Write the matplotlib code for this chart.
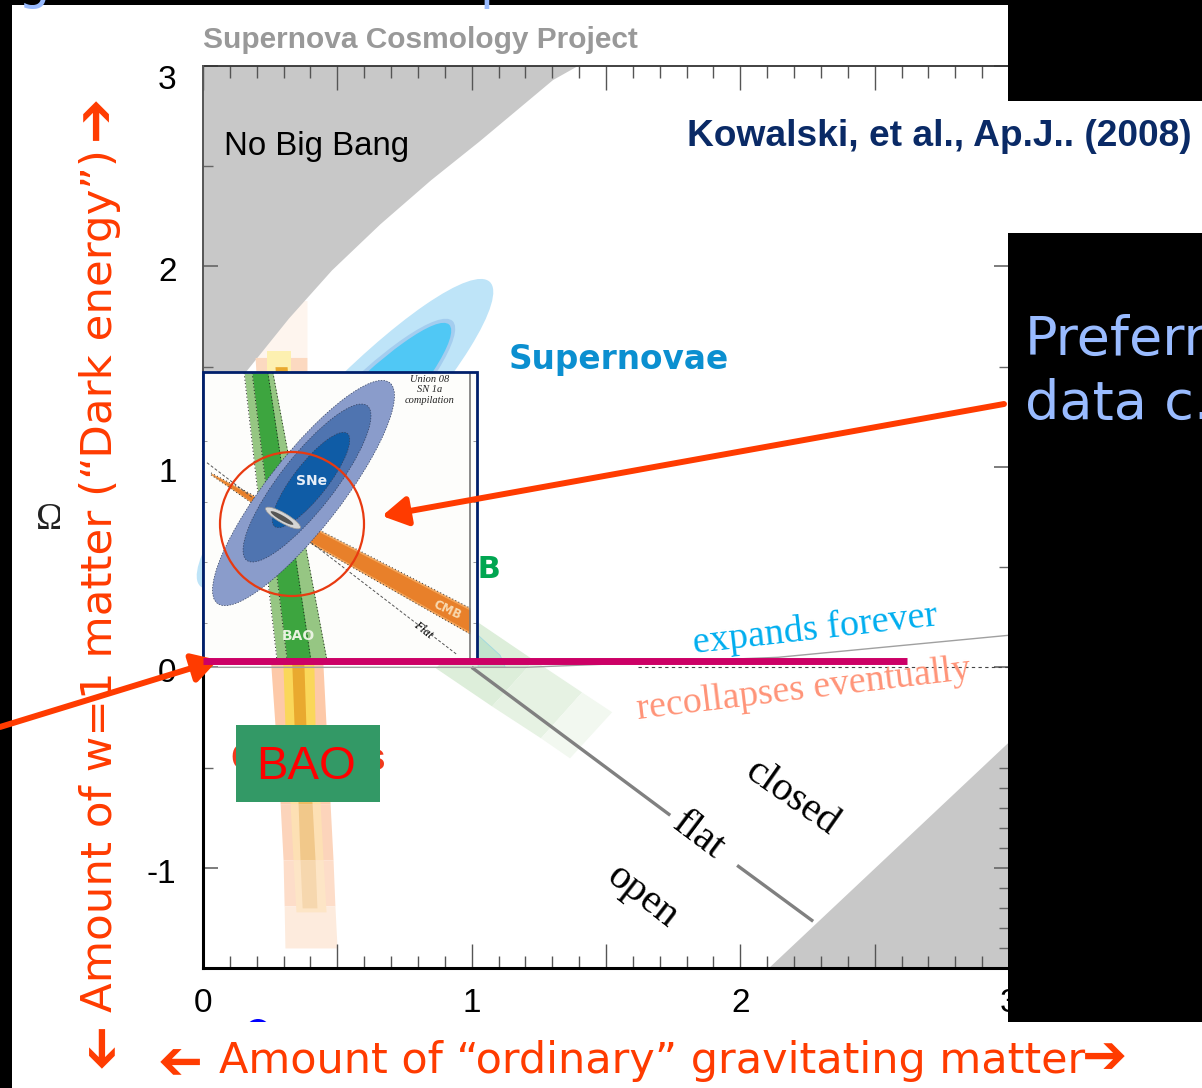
#!/usr/bin/env python3
import matplotlib
matplotlib.use('Agg')
import matplotlib.pyplot as plt
from matplotlib.patches import Ellipse, Rectangle, FancyArrowPatch
from matplotlib.transforms import ScaledTranslation

W, H = 1202, 1088

# allowed/forbidden corners of the Omega_m - Omega_L plane
nobang_x = [0, 0.164, 0.32, 0.48, 0.66, 0.849, 1.03, 1.303, 1.396]
nobang_y = [1.2, 1.48, 1.74, 1.98, 2.21, 2.43, 2.624, 2.93, 3.0]
norec_x = [2.107, 3.0, 3.0]
norec_y = [-1.5, -0.374, -1.5]

flat_x1 = [1.0, 1.739]
flat_y1 = [0.0, -0.738]
flat_x2 = [1.988, 2.271]
flat_y2 = [-0.988, -1.267]
expand_x = [0.0, 1.2, 2.14, 3.0]
expand_y = [0.0, 0.0, 0.05, 0.16]

# BAO band in the big plot
bao_y = [1.83, 1.546, 1.47, 0, -0.29, -0.68, -0.96, -1.19, -1.40]
bao_left = [0.22, 0.194, 0.197, 0.253, 0.268, 0.287, 0.298, 0.302, 0.305]
bao_right = [0.387, 0.387, 0.387, 0.447, 0.458, 0.473, 0.484, 0.491, 0.499]
bao2_y = [1.58, 1.47, 0, -0.29, -0.68, -0.96, -1.22]
bao2_left = [0.238, 0.238, 0.298, 0.305, 0.324, 0.335, 0.346]
bao2_right = [0.328, 0.328, 0.413, 0.417, 0.436, 0.447, 0.458]
bao3_y = [1.5, 0, -0.29, -0.68, -0.96, -1.2]
bao3_left = [0.268, 0.331, 0.339, 0.354, 0.361, 0.369]
bao3_right = [0.313, 0.376, 0.383, 0.406, 0.417, 0.424]

# CMB band edges in the big plot
cmb_up_x = [1.024, 1.232, 1.411, 1.523]
cmb_up_y = [0.224, 0.035, -0.125, -0.224]
cmb_lo_x = [0.867, 1.076, 1.258, 1.366]
cmb_lo_y = [-0.005, -0.195, -0.354, -0.454]
cmb_core_x = [1.024, 1.106, 1.125, 1.024]
cmb_core_y = [0.16, 0.06, 0.0, 0.0]

# inset bands
in_bao_y = [1.2, 0.016]
in_bao_left = [0.154, 0.277]
in_bao_right = [0.262, 0.464]
in_bao_dleft = [0.184, 0.315]
in_bao_dright = [0.243, 0.404]
in_cmb_x = [0.03, 0.40, 1.0]
in_cmb_hi = [0.788, 0.573, 0.231]
in_cmb_lo = [0.780, 0.499, 0.124]
in_cmb_chi = [0.784, 0.565, 0.222]
in_cmb_clo = [0.784, 0.507, 0.133]
in_flat_x = [0.015, 0.95]
in_flat_y = [0.83, 0.04]
in_yticks = [0.17, 0.42, 0.67, 0.92]

x_major = [0, 0.5, 1, 1.5, 2, 2.5, 3]
x_labels = ['0', '', '1', '', '2', '', '3']
y_major = [-1, 0, 1, 2, 3]
y_labels = ['-1', '0', '1', '2', '3']

ORANGE = '#FF3B00'
SANS = 'Liberation Sans'
SERIF = 'Liberation Serif'


def px_axes(z):
    a = fig.add_axes([0, 0, 1, 1], zorder=z, facecolor='none')
    a.set_xlim(0, W)
    a.set_ylim(H, 0)
    a.axis('off')
    return a


def band(a, levels, left, right, colors, z=1.5):
    for i, c in enumerate(colors):
        a.fill_betweenx(levels[i:i + 2], left[i:i + 2], right[i:i + 2], color=c, lw=0, zorder=z)


fig = plt.figure(figsize=(W / 100, H / 100), dpi=100, facecolor='black')

under = px_axes(0)
over = px_axes(5)
under.add_patch(Rectangle((12, 5), W, H, color='white', lw=0))

# big plot
ax = fig.add_axes([203 / W, 1 - 968 / H, (1009 - 203) / W, (968 - 66) / H], zorder=1, facecolor='none')
ax.set_xlim(0, 3)
ax.set_ylim(-1.5, 3)

ax.fill(nobang_x + [0], nobang_y + [3], color='#C8C8C8', lw=0, zorder=1)
ax.fill(norec_x, norec_y, color='#C8C8C8', lw=0, zorder=1)

# the palest top piece of the BAO band lies behind the grey corner
band(ax, bao_y[:2], bao_left[:2], bao_right[:2], ['#FEF5EE'], z=0.5)
band(ax, bao_y[1:], bao_left[1:], bao_right[1:],
     ['#FCD9C0', '#FDC9A8', '#FDC9A8', '#FCCBAC', '#FCD4BB', '#FDDDC9', '#FDEBDD'])
band(ax, bao2_y, bao2_left, bao2_right,
     ['#FDF0B0', '#FAD75A', '#FAD75A', '#FEDFA0', '#FDE0B4', '#FDE5C6'])
band(ax, bao3_y, bao3_left, bao3_right,
     ['#E9A92F', '#E9A92F', '#EDBB62', '#F1C88A', '#F6D7AE'])

for i, c in enumerate(['#DDEEDA', '#E6F2E3', '#F2F8F0']):
    ax.fill([cmb_up_x[i], cmb_up_x[i + 1], cmb_lo_x[i + 1], cmb_lo_x[i]],
            [cmb_up_y[i], cmb_up_y[i + 1], cmb_lo_y[i + 1], cmb_lo_y[i]], color=c, lw=0, zorder=2)
ax.fill(cmb_core_x, cmb_core_y, facecolor='#C1E3CC', edgecolor='#9FD8E0', lw=0.6, zorder=2)

for w, h, col in [(88, 420, '#BEE4F8'), (66, 312, '#A4CDEF'), (58, 302, '#50C8F5')]:
    ax.add_patch(Ellipse((345, 434), h, w, angle=-46.4, color=col, lw=0, clip_on=False,
                         transform=under.transData, zorder=3))

ax.plot(flat_x1, flat_y1, color='#808080', lw=2.4, zorder=4, solid_capstyle='butt')
ax.plot(flat_x2, flat_y2, color='#808080', lw=2.4, zorder=4, solid_capstyle='butt')
ax.plot(expand_x, expand_y, color='#A0A0A0', lw=1.0, zorder=4)
ax.plot([1.62, 3], [0, 0], color='#444444', lw=0.8, ls=(0, (3, 3)), zorder=4)

ax.set_xticks(x_major)
ax.set_xticklabels(x_labels, fontsize=24, family=SANS)
ax.set_xticks([v / 10 for v in range(31) if v % 5], minor=True)
ax.set_yticks(y_major)
ax.set_yticklabels(y_labels, fontsize=24, family=SANS)
y_minor = [v / 10 for v in range(-15, 31) if v % 10]
ax.set_yticks(y_minor, minor=True)
ax.tick_params(axis='x', which='major', direction='in', top=True, length=17, width=1, color='#555555', pad=14.5)
ax.tick_params(axis='x', which='minor', direction='in', top=True, length=8.5, width=1, color='#555555')
ax.tick_params(axis='y', which='major', direction='in', right=True, length=11, width=1.2, color='#666666', pad=19)
ax.tick_params(axis='y', which='minor', direction='in', right=True, length=7, width=1, color='#666666')
for v, t in zip(y_minor, ax.yaxis.get_minor_ticks()):
    half = v * 2 == int(v * 2)
    t.tick1line.set_visible(half)
    t.tick2line.set_visible(half or v < -0.5)
for v, lab in zip(y_major, ax.get_yticklabels()):
    shift = 11 if v == 3 else 3
    lab.set_transform(lab.get_transform() + ScaledTranslation(0, -shift / 100, fig.dpi_scale_trans))

ax.spines['right'].set_visible(False)
ax.spines['top'].set_color('#333333')
ax.spines['top'].set_linewidth(1.3)
ax.spines['bottom'].set_linewidth(2.2)
ax.spines['left'].set_bounds(-1.5, 0)
ax.spines['left'].set_linewidth(2.2)
ax.plot([0, 0], [0, 3], color='#555555', lw=1.4, clip_on=False, zorder=5)

# texts of the big plot, some of them half hidden later
ax.text(0.08, 2.60, 'No Big Bang', fontsize=23.8, family=SANS, va='center', zorder=6)
under.text(203, 40, 'Supernova Cosmology Project', fontsize=21.5, family=SANS, weight='bold',
           color='#999999', va='center')
under.text(509, 360, 'Supernovae', fontsize=23.6, family='DejaVu Sans', weight='bold',
           color='#0B8FD0', va='center')
under.text(501, 570, 'CMB', fontsize=22, family='DejaVu Sans', weight='bold',
           color='#00A651', va='center', ha='right')
ax.text(308, 760, 'Clusters', fontsize=28, family=SANS, weight='bold', color='#F03A1C',
        va='center', ha='center', transform=under.transData, zorder=6)
ax.text(815, 630, 'expands forever', fontsize=27.5, family=SERIF, color='#00AEEF', rotation=6.5,
        rotation_mode='anchor', ha='center', va='center', transform=under.transData, zorder=6)
ax.text(804, 690, 'recollapses eventually', fontsize=27.3, family=SERIF, color='#FF9478', rotation=6.9,
        rotation_mode='anchor', ha='center', va='center', transform=under.transData, zorder=6)
ax.text(792, 798, 'closed', fontsize=29.5, family=SERIF, rotation=-35,
        rotation_mode='anchor', ha='center', va='center', transform=under.transData, zorder=6)
ax.text(698, 836, 'flat', fontsize=29.5, family=SERIF, rotation=-37,
        rotation_mode='anchor', ha='center', va='center', transform=under.transData, zorder=6)
ax.text(642, 897, 'open', fontsize=29.5, family=SERIF, rotation=-38,
        rotation_mode='anchor', ha='center', va='center', transform=under.transData, zorder=6)

# inset with the Union 08 figure
ins = fig.add_axes([203 / W, 1 - 664 / H, (477 - 203) / W, (664 - 372) / H], zorder=2, facecolor='#FDFDFB')
ins.set_xlim(0, (477 - 203) / 267)
ins.set_ylim(0, (664 - 372) / 242.5)

ins.fill_betweenx(in_bao_y, in_bao_left, in_bao_right, color='#96C683', lw=0)
ins.fill_betweenx(in_bao_y, in_bao_dleft, in_bao_dright, color='#3DA53F', lw=0)
for xs in (in_bao_left, in_bao_right, in_bao_dleft, in_bao_dright):
    ins.plot(xs, in_bao_y, color='#1A1A1A', lw=0.7, ls=(0, (1, 2.5)))
ins.fill_between(in_cmb_x, in_cmb_lo, in_cmb_hi, color='#F2A65E', lw=0)
ins.fill_between(in_cmb_x, in_cmb_clo, in_cmb_chi, color='#E8802A', lw=0)
ins.plot(in_cmb_x, in_cmb_lo, color='#333333', lw=0.7, ls=(0, (1, 2.5)))
ins.plot(in_cmb_x, in_cmb_hi, color='#333333', lw=0.7, ls=(0, (1, 2.5)))
ins.plot(in_flat_x, in_flat_y, color='#555555', lw=0.7, ls=(0, (3, 2)))
ins.axvline(1.0, color='#777777', lw=1.2)

for center, length, width, col in [((303.5, 493), 280, 74, '#8A9CCB'),
                                   ((307, 483), 196, 54, '#4F74B0'),
                                   ((311, 480), 118, 34, '#0F5CA6')]:
    ins.add_patch(Ellipse(center, length, width, angle=-52, facecolor=col, edgecolor='#33405F',
                          lw=0.5, ls=(0, (2, 2)), transform=under.transData, zorder=4))
ins.add_patch(Ellipse((283, 518), 40, 10, angle=30, facecolor='#D5D5D5', edgecolor='#999999', lw=0.5,
                      transform=under.transData, zorder=5))
ins.add_patch(Ellipse((282, 518), 26, 5, angle=30, color='#555555', lw=0,
                      transform=under.transData, zorder=6))

ins.set_xticks([])
ins.set_yticks(in_yticks)
ins.set_yticklabels([])
ins.tick_params(axis='y', direction='in', right=True, length=3, width=0.6, color='#888888')
for s in ins.spines.values():
    s.set_visible(False)
ins.text(312, 481, 'SNe', fontsize=10, family='DejaVu Sans', weight='bold', color='#E6EEF8',
         ha='center', va='center', transform=under.transData, zorder=7)
ins.text(298, 636, 'BAO', fontsize=10, family='DejaVu Sans', weight='bold', color='#E8F2E0',
         ha='center', va='center', transform=under.transData, zorder=7)
ins.text(430, 390, 'Union 08\nSN 1a\ncompilation', fontsize=7.5, family=SERIF, style='italic',
         color='#222222', ha='center', va='center', linespacing=1.15, transform=under.transData, zorder=7)
ins.text(447, 610, 'CMB', fontsize=8.5, family='DejaVu Sans', weight='bold', color='#F8D9B0', rotation=-25,
         ha='center', va='center', transform=under.transData, zorder=7)
ins.text(423, 630, 'Flat', fontsize=9, family=SERIF, style='italic', rotation=-38,
         ha='center', va='center', transform=under.transData, zorder=7)

# overlay: boxes, arrows, axis captions
over.add_patch(Rectangle((203, 372), 274, 288, fill=False, edgecolor='#001F6B', lw=2))
over.add_patch(Ellipse((292, 524), 144, 144, fill=False, edgecolor='#E83A10', lw=1.6))
over.plot([203, 907], [661, 661], color='#CC0066', lw=5, solid_capstyle='butt')
over.add_patch(Rectangle((236, 725), 144, 77, color='#339966', lw=0))
over.text(306, 767, 'BAO', fontsize=34, family=SANS, color='#FF0000', ha='center', va='center')

over.add_patch(Rectangle((990, 101), 22, 132, color='white', lw=0))
over.text(1192, 137, 'Kowalski, et al., Ap.J.. (2008)', fontsize=26.7, family=SANS, weight='bold',
          color='#0A2A66', va='center', ha='right')

over.add_patch(Rectangle((1008, 0), 200, 101, color='black', lw=0))
over.add_patch(Rectangle((1008, 233), 200, 789, color='black', lw=0))
over.add_patch(Rectangle((0, 0), 12, H, color='black', lw=0))

over.text(1025, 355, 'Preferr', fontsize=39, family='DejaVu Sans', color='#99BBFF', va='baseline', clip_on=True)
over.text(1025, 419, 'data c.', fontsize=39, family='DejaVu Sans', color='#99BBFF', va='baseline', clip_on=True)
over.text(17, -2, 'g', fontsize=37, family='DejaVu Sans', color='#99BBFF', va='baseline', clip_on=True)
over.text(479, -2, 'p', fontsize=37, family='DejaVu Sans', color='#99BBFF', va='baseline', clip_on=True)

under.text(36, 529, '\u03a9', fontsize=27, family=SERIF, color='#222222', va='baseline')
over.add_patch(Rectangle((60, 495), 12, 40, color='white', lw=0))
over.add_patch(Ellipse((258, 1032), 26, 26, color='#0000FF', lw=0))
over.add_patch(Rectangle((240, 1022), 40, 30, color='white', lw=0))

over.text(100, 581, 'Amount of w=1 matter (\u201cDark energy\u201d)', fontsize=31.3, family='DejaVu Sans', color=ORANGE,
          rotation=90, ha='center', va='center')
over.text(652, 1061, 'Amount of \u201cordinary\u201d gravitating matter', fontsize=31, family='DejaVu Sans',
          color=ORANGE, ha='center', va='center')
for x, y, rot in [(96, 117, 90), (96, 1051, -90), (174, 1058, 180), (1105, 1058, 0)]:
    over.text(x, y, '\u2794', fontsize=39, family='DejaVu Sans', color=ORANGE, rotation=rot,
              ha='center', va='center')

for start, end in [((0, 727), (218, 660)), ((1004, 404), (382, 516))]:
    over.add_patch(FancyArrowPatch(start, end, arrowstyle='-|>,head_length=9.5,head_width=5.5', mutation_scale=1.6,
                                   color=ORANGE, lw=4.3, shrinkA=0, shrinkB=0, clip_on=False))

fig.savefig('out.png', dpi=100, facecolor=fig.get_facecolor())
